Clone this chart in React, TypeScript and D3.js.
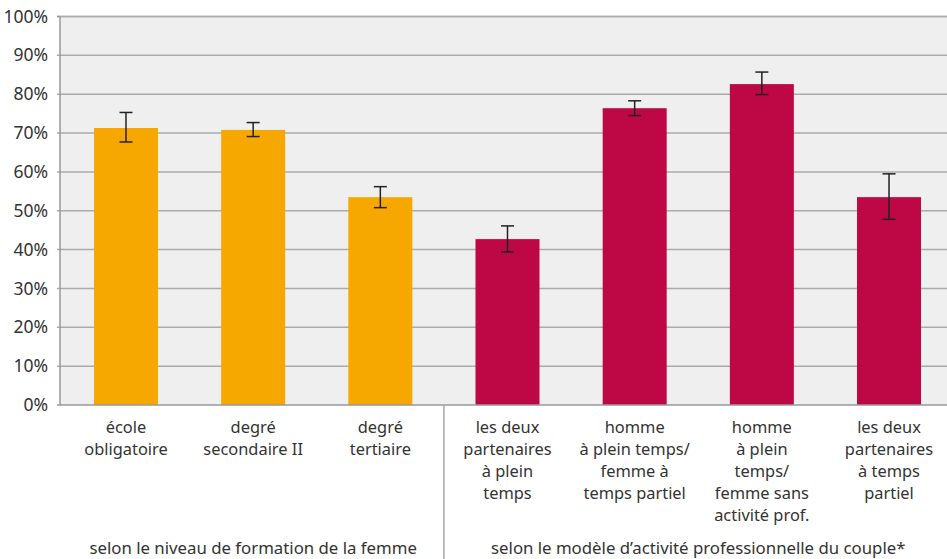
import React from 'react';
import * as d3 from 'd3';

const categories = [
  ['école', 'obligatoire'],
  ['degré', 'secondaire II'],
  ['degré', 'tertiaire'],
  ['les deux', 'partenaires', 'à plein', 'temps'],
  ['homme', 'à plein temps/', 'femme à', 'temps partiel'],
  ['homme', 'à plein', 'temps/', 'femme sans', 'activité prof.'],
  ['les deux', 'partenaires', 'à temps', 'partiel'],
];
const values = [71.3, 70.8, 53.5, 42.7, 76.4, 82.6, 53.5];
const errLow = [67.7, 69.1, 50.8, 39.4, 74.5, 79.9, 47.8];
const errHigh = [75.3, 72.7, 56.2, 46.1, 78.3, 85.7, 59.5];
const groupOf = [0, 0, 0, 1, 1, 1, 1];
const groupLabels = [
  'selon le niveau de formation de la femme',
  'selon le modèle d’activité professionnelle du couple*',
];
const groupColors = ['#F7A800', '#BE0745'];
const yTicks = [0, 10, 20, 30, 40, 50, 60, 70, 80, 90, 100];

const W = 947;
const H = 559;
const left = 60;
const bandStart = 62.4;
const right = 952.6;
const top = 16.5;
const bottom = 405;
const font = '"Noto Sans", "Open Sans", sans-serif';

export default function App() {
  const idx = categories.map((_, i) => i);
  const x = d3.scaleBand<number>().domain(idx).range([bandStart, right]).paddingInner(0).paddingOuter(0);
  const y = d3.scaleLinear().domain([0, 100]).range([bottom, top]);
  const bw = 64;
  const cap = 6.5;
  const sepX = x(3)!;

  return (
    <div style={{ position: 'absolute', left: 0, top: 0 }}>
      <svg width={W} height={H} style={{ display: 'block', background: '#fff' }} fontFamily={font}>
        <rect x={left} y={top} width={right - left} height={bottom - top} fill="#EFEFEF" />
        {yTicks.map((t) => (
          <g key={t}>
            {t > 0 && (
              <line x1={left - 3} x2={right} y1={y(t)} y2={y(t)} stroke="#ABABAB" strokeWidth={1.5} />
            )}
            <text x={48} y={y(t)} dy="0.35em" textAnchor="end" fontSize={17.5} fill="#333">
              {t}%
            </text>
          </g>
        ))}
        {idx.map((i) => {
          const cx = x(i)! + x.bandwidth() / 2;
          return (
            <g key={i}>
              <rect
                x={cx - bw / 2}
                y={y(values[i])}
                width={bw}
                height={bottom - y(values[i])}
                fill={groupColors[groupOf[i]]}
              />
              <line x1={cx} x2={cx} y1={y(errHigh[i])} y2={y(errLow[i])} stroke="#222" strokeWidth={1.5} />
              <line x1={cx - cap} x2={cx + cap} y1={y(errHigh[i])} y2={y(errHigh[i])} stroke="#222" strokeWidth={1.5} />
              <line x1={cx - cap} x2={cx + cap} y1={y(errLow[i])} y2={y(errLow[i])} stroke="#222" strokeWidth={1.5} />
              {categories[i].map((ln, k) => (
                <text key={k} x={cx} y={427 + k * 22} dy="0.35em" textAnchor="middle" fontSize={16.4} fill="#333">
                  {ln}
                </text>
              ))}
            </g>
          );
        })}
        {/* axes */}
        <line x1={left} x2={left} y1={top} y2={bottom} stroke="#999" strokeWidth={1.5} />
        <line x1={left - 3} x2={right} y1={bottom} y2={bottom} stroke="#999" strokeWidth={1.5} />
        <line x1={left - 3} x2={left} y1={top} y2={top} stroke="#999" strokeWidth={1.5} />
        <line x1={left} x2={right} y1={top} y2={top} stroke="#ABABAB" strokeWidth={1.5} />
        <line x1={sepX} x2={sepX} y1={bottom} y2={H} stroke="#AAA" strokeWidth={1.5} />
        <text x={(bandStart + sepX) / 2} y={548} dy="0.35em" textAnchor="middle" fontSize={16.8} fill="#333">
          {groupLabels[0]}
        </text>
        <text x={(sepX + x(6)! + x.bandwidth()) / 2} y={548} dy="0.35em" textAnchor="middle" fontSize={16.8} fill="#333">
          {groupLabels[1]}
        </text>
      </svg>
    </div>
  );
}
